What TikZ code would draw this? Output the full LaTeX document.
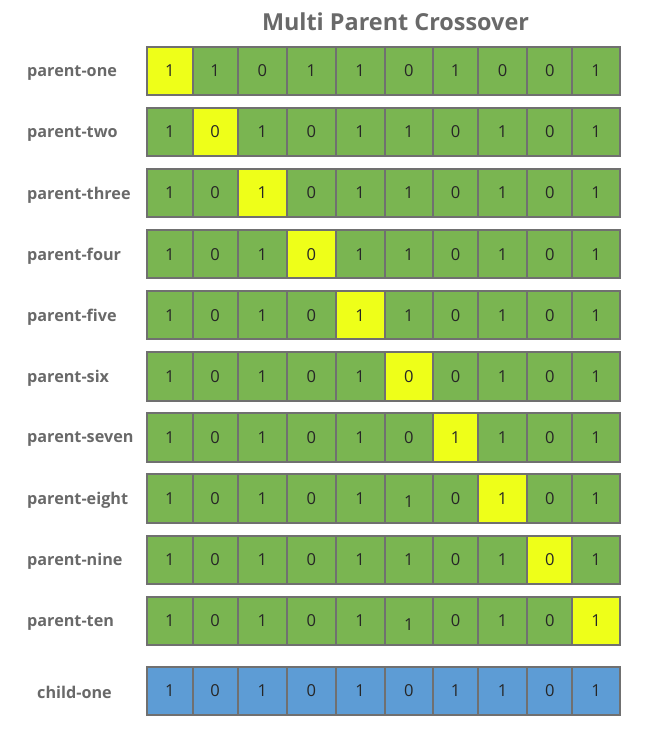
\documentclass[tikz,border=0pt]{standalone}
\usepackage{fontspec}
\setmainfont{Open Sans}
\usepackage{xcolor}
\definecolor{mpgreen}{RGB}{122,181,81}
\definecolor{mpyellow}{RGB}{238,255,25}
\definecolor{mpblue}{RGB}{93,156,213}
\definecolor{mpborder}{RGB}{112,112,112}
\definecolor{mptext}{RGB}{105,105,105}
\begin{document}
\begin{tikzpicture}[
    x=1pt, y=-1pt,
    cell/.style={rectangle, draw=mpborder, line width=2pt, inner sep=0pt, anchor=north west, minimum height=48.3pt, font=\fontsize{16.5}{20}\selectfont, text=black!85},
    rowlabel/.style={anchor=west, inner sep=0pt, font=\fontsize{16.2}{19}\selectfont\bfseries, text=mptext},
    title/.style={inner sep=0pt, font=\fontsize{23.4}{28}\selectfont\bfseries, text=mptext}
]
\useasboundingbox (0,0) rectangle (645,737);

% Title
\node (title) [title] at (395.5,22) {Multi Parent Crossover};

% Parent rows
\foreach \name/\bits/\hi [count=\r] in {
    one/{1,1,0,1,1,0,1,0,0,1}/1,
    two/{1,0,1,0,1,1,0,1,0,1}/2,
    three/{1,0,1,0,1,1,0,1,0,1}/3,
    four/{1,0,1,0,1,1,0,1,0,1}/4,
    five/{1,0,1,0,1,1,0,1,0,1}/5,
    six/{1,0,1,0,1,0,0,1,0,1}/6,
    seven/{1,0,1,0,1,0,1,1,0,1}/7,
    eight/{1,0,1,0,1,1,0,1,0,1}/8,
    nine/{1,0,1,0,1,1,0,1,0,1}/9,
    ten/{1,0,1,0,1,1,0,1,0,1}/10}{
  \pgfmathsetmacro\top{45.7+61.1*(\r-1)}
  \node (lbl\r) [rowlabel] at (27,\top+27) {parent-\name};
  \foreach \v [count=\c] in \bits {
    \pgfmathsetmacro\xa{{146,191.5,236.7,286,334.5,383.7,432.2,477,526.2,571.4,619}[\c-1]}
    \pgfmathsetmacro\xb{{146,191.5,236.7,286,334.5,383.7,432.2,477,526.2,571.4,619}[\c]}
    \pgfmathsetmacro\dy{(\c==6 && (\r==8 || \r==10)) ? 3.5 : 0}
    \ifnum\c=\hi\relax\def\fillc{mpyellow}\else\def\fillc{mpgreen}\fi
    \node (p\r-\c) [cell, fill=\fillc, minimum width=\xb pt-\xa pt] at (\xa,\top) {\raisebox{-\dy pt}[\height][\depth]{\v}};
  }
}

% Child row
\node (lblchild) [rowlabel] at (37,692.7) {child-one};
\foreach \v [count=\c] in {1,0,1,0,1,0,1,1,0,1} {
  \pgfmathsetmacro\xa{{146,191.5,236.7,286,334.5,383.7,432.2,477,526.2,571.4,619}[\c-1]}
  \pgfmathsetmacro\xb{{146,191.5,236.7,286,334.5,383.7,432.2,477,526.2,571.4,619}[\c]}
  \node (c-\c) [cell, fill=mpblue, minimum width=\xb pt-\xa pt] at (\xa,665.7) {\v};
}
\end{tikzpicture}
\end{document}
